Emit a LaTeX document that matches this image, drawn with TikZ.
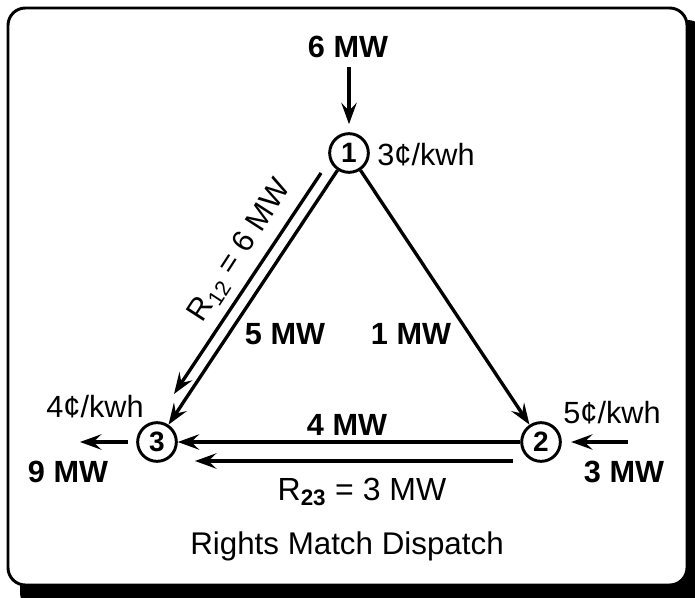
\documentclass[tikz,border=0pt]{standalone}
\usepackage{fontspec}
\setmainfont{Liberation Sans}
\usetikzlibrary{arrows.meta}

\tikzset{every picture/.style={line width=0.75pt}}
\tikzset{
  bus/.style={circle, draw, line width=2.2pt, minimum size=29pt, inner sep=0pt, font=\bfseries\fontsize{21}{21}\selectfont},
  flow/.style={line width=2.5pt, -{Stealth[length=16pt, width=11.5pt, inset=6pt]}},
  txt/.style={inner sep=0.75pt, font=\fontsize{23}{23}\selectfont},
  mw/.style={inner sep=0.75pt, font=\bfseries\fontsize{23}{23}\selectfont},
}

\begin{document}
\begin{tikzpicture}[x=0.75pt,y=0.75pt,yscale=-1,xscale=1]
\useasboundingbox (0,0) rectangle (695,598);

%Shadow and frame
\fill [rounded corners=13pt] (20,20) rectangle (705,610);
\draw [line width=2.2pt, fill=white, rounded corners=13pt] (8,8) rectangle (687,585);

%Buses
\node [bus] (n1) at (349,153) {1};
\node [bus] (n2) at (541,442) {2};
\node [bus] (n3) at (157,442) {3};

%Free line ends
\coordinate (top6) at (349,67);
\coordinate (w3) at (80,442);
\coordinate (e2) at (628,442);
\coordinate (r12a) at (321,173);
\coordinate (r12b) at (174,394);
\coordinate (r23a) at (513,461);
\coordinate (r23b) at (195,461);

%Straight Lines
\draw [flow] (n1) -- (n2);
\draw [flow] (n1) -- (n3);
\draw [flow] (n2) -- (n3);
\draw [flow] (r12a) -- (r12b);
\draw [flow] (r23a) -- (r23b);
\draw [flow, shorten >=6pt] (top6) -- (n1);
\draw [flow, shorten <=6pt] (n3) -- (w3);
\draw [flow, shorten >=7pt] (e2) -- (n2);

% Text Node
\node [mw] (mw6) at (348,47) {6 MW};
% Text Node
\node [txt] (c1) at (426,155) {3¢/kwh};
% Text Node
\node [txt] (c3) at (95,407) {4¢/kwh};
% Text Node
\node [txt] (c2) at (612,413) {5¢/kwh};
% Text Node
\node [mw] (mw9) at (68,472) {9 MW};
% Text Node
\node [mw] (mw3) at (624,472) {3 MW};
% Text Node
\node [mw] (f13) at (285,334) {5 MW};
% Text Node
\node [mw] (f12) at (411,334) {1 MW};
% Text Node
\node [mw] (f23) at (347,425) {4 MW};
% Text Node
\node [txt, font=\fontsize{24}{24}\selectfont] (r23) at (362,492) {R\textsubscript{\textbf{23}} = 3 MW};
% Text Node
\node [txt, rotate=57] (r12) at (240,251) {R\textsubscript{12} = 6 MW};
% Text Node
\node [txt, font=\fontsize{23.5}{23.5}\selectfont] (title) at (347,546) {Rights Match Dispatch};

\end{tikzpicture}
\end{document}
